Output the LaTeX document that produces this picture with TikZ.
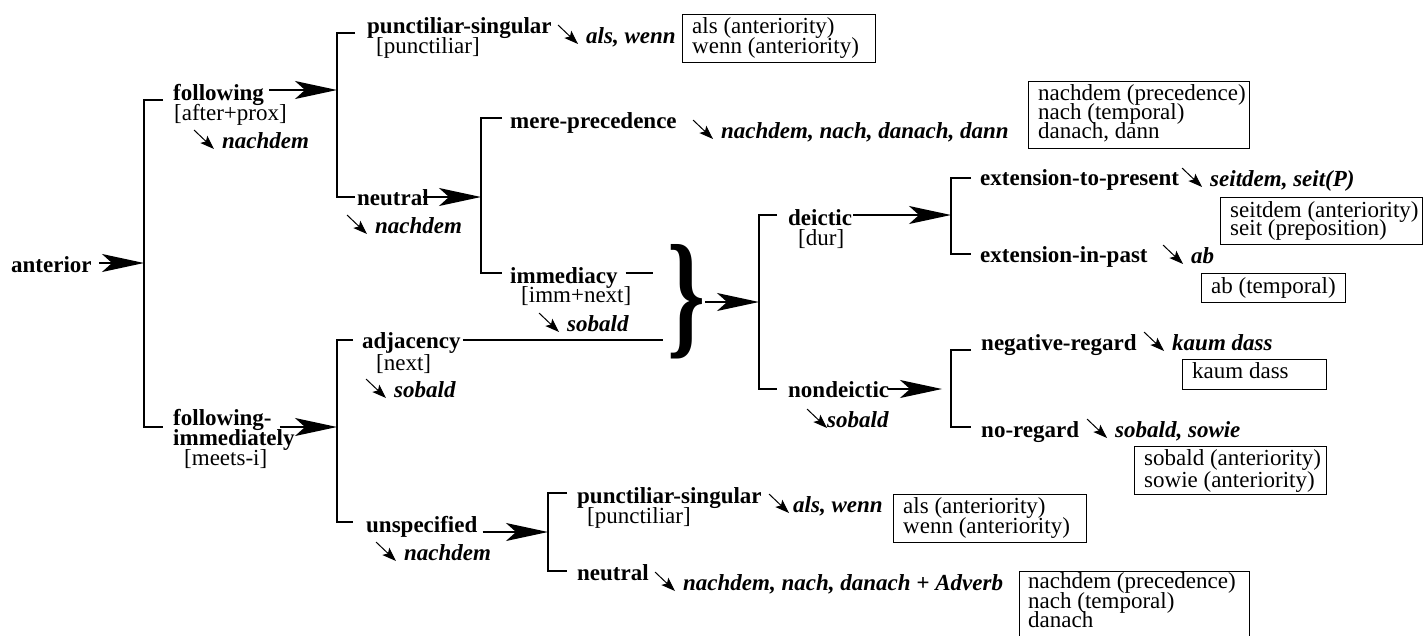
\documentclass[tikz,border=0pt]{standalone}
\usepackage{fontspec}
\usepackage{graphicx}
\setmainfont{Liberation Serif}
\usetikzlibrary{arrows.meta,calc}
% small pointer glyph in front of a lexical label
\newcommand\pointat[2][0]{%
  \draw[pointer] ($(#2.base west)+(-28+#1,-18)$) -- ($(#2.base west)+(-8+#1,1)$);}
\begin{document}
\fontsize{23}{19}\selectfont
\begin{tikzpicture}[x=1pt,y=-1pt,
  lbl/.style={font=\bfseries,anchor=base west,inner sep=0pt},
  feat/.style={anchor=base west,inner sep=0pt},
  lex/.style={font=\bfseries\itshape,anchor=base west,inner sep=0pt},
  txt/.style={anchor=base west,inner sep=0pt},
  lexbox/.style={draw,line width=0.8pt,anchor=north west,inner sep=0pt},
  brk/.style={line width=1.5pt},
  bigarrow/.style={line width=1.5pt,-{Stealth[length=42pt,width=18pt,inset=10pt]}},
  pointer/.style={line width=1pt,-{Stealth[length=14pt,width=10pt,inset=3pt]}},
  link/.style={line width=1.3pt}]
\useasboundingbox (0,0) rectangle (1423,635);
\fill[white] (0,0) rectangle (1423,635);
\clip (0,0) rectangle (1423,635);

% ---- category labels ----
\node[lbl] (anterior) at (11,272) {anterior};
\node[lbl] (following) at (173,100) {following};
\node[feat] (followingF) at (174,120) {[after+prox]};
\node[lex] (followingL) at (222,148) {nachdem};
\node[lbl] (folimA) at (173,425) {following-};
\node[lbl] (folimB) at (173,445) {immediately};
\node[feat] (folimF) at (184,465) {[meets-i]};
\node[lbl] (punct) at (367,33) {punctiliar-singular};
\node[feat] (punctF) at (376,53) {[punctiliar]};
\node[lex] (punctL) at (586,43) {als, wenn};
\node[lbl] (neutral) at (357,205) {neutral};
\node[lex] (neutralL) at (375,233) {nachdem};
\node[lbl] (mere) at (510,128) {mere-precedence};
\node[lex] (mereL) at (721,138) {nachdem, nach, danach, dann};
\node[lbl] (immed) at (510,283) {immediacy};
\node[feat] (immedF) at (521,302) {[imm+next]};
\node[lex] (immedL) at (567,331) {sobald};
\node[lbl] (adj) at (362,348) {adjacency};
\node[feat] (adjF) at (376,370) {[next]};
\node[lex] (adjL) at (394,397) {sobald};
\node[lbl] (unspec) at (366,532) {unspecified};
\node[lex] (unspecL) at (404,560) {nachdem};
\node[lbl] (deictic) at (788,225) {deictic};
\node[feat] (deicticF) at (798,245) {[dur]};
\node[lbl] (nondeictic) at (788,397) {nondeictic};
\node[lex] (nondeicticL) at (827,427) {sobald};
\node[lbl] (extpres) at (980,185) {extension-to-present};
\node[lex] (extpresL) at (1210,186) {seitdem, seit(P)};
\node[lbl] (extpast) at (980,262) {extension-in-past};
\node[lex] (extpastL) at (1191,263) {ab};
\node[lbl] (negreg) at (981,350) {negative-regard};
\node[lex] (negregL) at (1172,350) {kaum dass};
\node[lbl] (noreg) at (981,437) {no-regard};
\node[lex] (noregL) at (1115,437) {sobald, sowie};
\node[lbl] (punctB) at (577,503) {punctiliar-singular};
\node[feat] (punctBF) at (587,523) {[punctiliar]};
\node[lex] (punctBL) at (793,512) {als, wenn};
\node[lbl] (neutralB) at (577,580) {neutral};
\node[lex] (neutralBL) at (683,590) {nachdem, nach, danach + Adverb};

% ---- lexical boxes ----
\node[lexbox,minimum width=193pt,minimum height=48pt] (bx1) at (682,14) {};
\node[txt] (bx1a) at (692,33) {als (anteriority)};
\node[txt] (bx1b) at (692,53) {wenn (anteriority)};
\node[lexbox,minimum width=221pt,minimum height=67pt] (bx2) at (1028,81) {};
\node[txt] (bx2a) at (1038,100) {nachdem (precedence)};
\node[txt] (bx2b) at (1038,119) {nach (temporal)};
\node[txt] (bx2c) at (1038,138) {danach, dann};
\node[lexbox,minimum width=202pt,minimum height=47pt] (bx3) at (1220,197) {};
\node[txt] (bx3a) at (1230,217) {seitdem (anteriority)};
\node[txt] (bx3b) at (1230,235) {seit (preposition)};
\node[lexbox,minimum width=144pt,minimum height=29pt] (bx4) at (1201,273) {};
\node[txt] (bx4a) at (1211,293) {ab (temporal)};
\node[lexbox,minimum width=144pt,minimum height=30pt] (bx5) at (1182,359) {};
\node[txt] (bx5a) at (1192,378) {kaum dass};
\node[lexbox,minimum width=192pt,minimum height=48pt] (bx6) at (1134,446) {};
\node[txt] (bx6a) at (1144,465) {sobald (anteriority)};
\node[txt] (bx6b) at (1144,487) {sowie (anteriority)};
\node[lexbox,minimum width=193pt,minimum height=48pt] (bx7) at (893,494) {};
\node[txt] (bx7a) at (903,513) {als (anteriority)};
\node[txt] (bx7b) at (903,533) {wenn (anteriority)};
\node[lexbox,minimum width=230pt,minimum height=100pt] (bx8) at (1019,571) {};
\node[txt] (bx8a) at (1028,588) {nachdem (precedence)};
\node[txt] (bx8b) at (1028,608) {nach (temporal)};
\node[txt] (bx8c) at (1028,627) {danach};

% ---- brace joining immediacy and adjacency ----
\node[inner sep=0pt] (brace) at (686,302) {\resizebox{38pt}{96pt}{\bfseries\}}};

% ---- bracket junctions and stub ends ----
\coordinate (j1) at (144,263); \coordinate (b1t) at (163,100); \coordinate (b1b) at (163,427);
\coordinate (j2) at (337,90);  \coordinate (b2t) at (355,33);  \coordinate (b2b) at (355,197);
\coordinate (j3) at (481,197); \coordinate (b3t) at (502,118); \coordinate (b3b) at (502,273);
\coordinate (j4) at (759,302); \coordinate (b4t) at (777,215); \coordinate (b4b) at (777,389);
\coordinate (j5) at (951,215); \coordinate (b5t) at (971,178); \coordinate (b5b) at (971,254);
\coordinate (j6) at (337,427); \coordinate (b6t) at (353,340); \coordinate (b6b) at (353,522);
\coordinate (j7) at (548,532); \coordinate (b7t) at (567,493); \coordinate (b7b) at (567,571);
\coordinate (j8) at (951,389); \coordinate (b8t) at (971,350); \coordinate (b8b) at (971,427);
\foreach \k in {1,...,8} \draw[brk] (b\k t) -| (j\k) |- (b\k b);

% ---- arrows into brackets ----
\draw[bigarrow] ($(anterior.east |- j1)+(7,0)$) -- (j1);
\draw[bigarrow] ($(following.east |- j2)+(5,0)$) -- (j2);
\draw[bigarrow] ($(neutral.east |- j3)+(-6,0)$) -- (j3);
\draw[bigarrow] ($(folimA.east |- j6)+(8,0)$) -- (j6);
\draw[bigarrow] (brace.east) -- (j4);
\draw[bigarrow] ($(deictic.east |- j5)+(1,0)$) -- (j5);
\draw[bigarrow,shorten >=9pt] ($(nondeictic.east |- j8)+(-1,0)$) -- (j8);
\draw[bigarrow] ($(unspec.east |- j7)+(5,0)$) -- (j7);

% ---- plain lines running to the brace ----
\coordinate (immedE) at (653,273);
\coordinate (adjE) at (663,340);
\draw[link] ($(immed.east |- immedE)+(8,0)$) -- (immedE);
\draw[link] ($(adj.east |- adjE)+(2,0)$) -- (adjE);

% ---- pointers to lexical items ----
\pointat{followingL}
\pointat{punctL}
\pointat{neutralL}
\pointat{mereL}
\pointat{extpresL}
\pointat{extpastL}
\pointat{immedL}
\pointat{adjL}
\pointat[8]{nondeicticL}
\pointat{negregL}
\pointat{noregL}
\pointat{unspecL}
\pointat[4]{punctBL}
\pointat{neutralBL}
\end{tikzpicture}
\end{document}
